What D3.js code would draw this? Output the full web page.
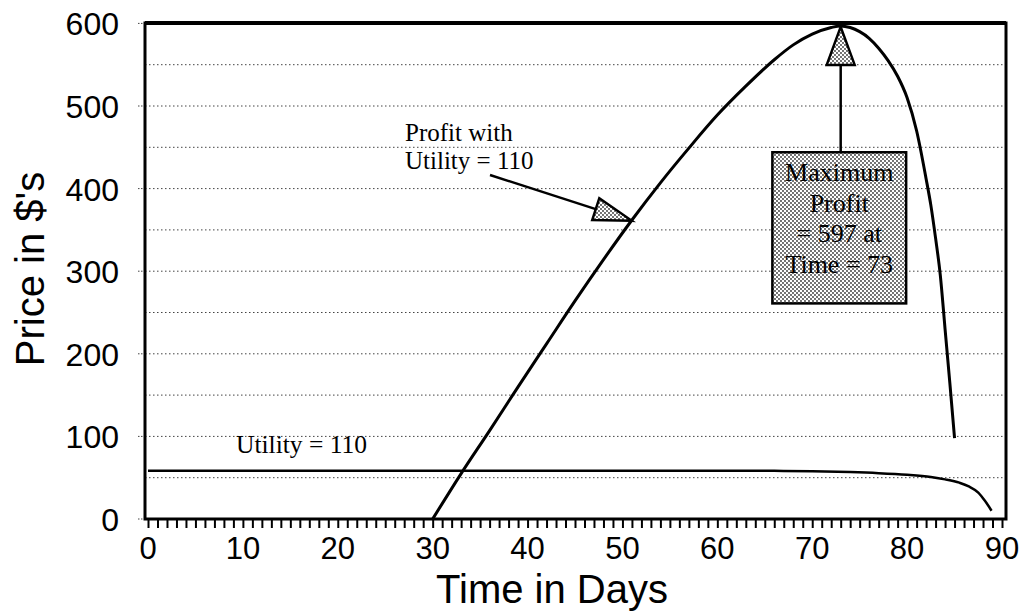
<!DOCTYPE html>
<html><head><meta charset="utf-8">
<script src="https://cdn.jsdelivr.net/npm/d3@7"></script>
<style>body{margin:0;background:#fff}svg{display:block}</style>
</head><body><svg id="c" width="1025" height="612"></svg>
<script>
// ---- data ----
const profitDays   = [30, 33, 36, 39, 42, 45, 48, 51, 54, 57, 60, 63, 66, 68, 70, 72, 73, 74, 75, 76, 77, 78, 79, 80, 81, 82, 82.5, 83, 83.5, 84, 84.5, 85];
const profitValues = [0, 55, 107, 160, 212, 264, 314, 362, 407, 449, 489, 524, 556, 574, 587, 595, 597, 595, 590, 582, 570, 555, 536, 510, 470, 412, 380, 340, 295, 230, 165, 98];
const utilityDays   = [0, 20, 40, 60, 66, 70, 74, 77, 80, 82.5, 84, 85.5, 86.5, 87.5, 88.2, 88.9];
const utilityValues = [58.5, 58.5, 58.5, 58.5, 58.3, 57.8, 56.8, 55.5, 53.5, 50.8, 48, 44, 39.5, 32, 22, 10];
const xTickLabels = [0, 10, 20, 30, 40, 50, 60, 70, 80, 90];
const yTickLabels = [0, 100, 200, 300, 400, 500, 600];
const gridValues = [50, 100, 150, 200, 250, 300, 350, 400, 450, 500, 550];
const maxProfit = {day: 73, value: 597};
const profitArrowTip = {day: 51.0, value: 361};
const boxLines = ["Maximum", "Profit", "= 597 at", "Time = 73"];
const profitLabelLines = ["Profit with", "Utility = 110"];
const utilityLabel = "Utility = 110";

// ---- layout ----
const svg = d3.select("#c");
const x = d3.scaleLinear().domain([0, 90]).range([148, 1002]);
const y = d3.scaleLinear().domain([0, 600]).range([519, 23.4]);
const L = 145, R = 1006, T = 23, B = 519;
const sans = "'Liberation Sans', Arial, Helvetica, sans-serif";
const serif = "'Liberation Serif', 'Times New Roman', serif";

// stipple pattern
const defs = svg.append("defs");
const pat = defs.append("pattern").attr("id", "dots").attr("width", 4).attr("height", 4).attr("patternUnits", "userSpaceOnUse");
pat.append("rect").attr("width", 4).attr("height", 4).attr("fill", "#fff");
pat.append("circle").attr("cx", 1).attr("cy", 1).attr("r", 0.9).attr("fill", "#333");
pat.append("circle").attr("cx", 3).attr("cy", 3).attr("r", 0.9).attr("fill", "#333");

// gridlines
svg.append("g").selectAll("line").data(gridValues).join("line")
  .attr("x1", L).attr("x2", R).attr("y1", d => y(d)).attr("y2", d => y(d))
  .attr("stroke", "#444").attr("stroke-width", 1).attr("stroke-dasharray", "1.5,2.5");
// small left ticks
svg.append("g").selectAll("line").data(yTickLabels).join("line")
  .attr("x1", L - 7).attr("x2", L).attr("y1", d => y(d)).attr("y2", d => y(d))
  .attr("stroke", "#444").attr("stroke-width", 1).attr("stroke-dasharray", "1.5,1.5");

// x axis ticks (every day)
const xAxis = d3.axisBottom(x).tickValues(d3.range(0, 91, 1)).tickSize(9).tickFormat("");
const gx = svg.append("g").attr("transform", `translate(0,${B})`).call(xAxis);
gx.select(".domain").remove();
gx.selectAll(".tick line").attr("stroke", "#000").attr("stroke-width", 2);

// x tick labels
svg.append("g").selectAll("text").data(xTickLabels).join("text")
  .attr("x", d => x(d)).attr("y", 559).attr("text-anchor", "middle")
  .attr("font-family", sans).attr("font-size", 31).text(d => d);

// y tick labels
const yAxis = d3.axisLeft(y).tickValues(yTickLabels).tickSize(0).tickPadding(0);
const gy = svg.append("g").attr("transform", `translate(119,0)`).call(yAxis);
gy.select(".domain").remove();
gy.selectAll("text").attr("font-family", sans).attr("font-size", 32).attr("fill", "#000").attr("dy", "0.36em");

// titles
svg.append("text").attr("x", 552).attr("y", 603).attr("text-anchor", "middle")
  .attr("font-family", sans).attr("font-size", 40).text("Time in Days");
svg.append("text").attr("transform", "translate(44,269) rotate(-90)").attr("text-anchor", "middle")
  .attr("font-family", sans).attr("font-size", 40).text("Price in $'s");

// lines
const line = d3.line().x(d => x(d[0])).y(d => y(d[1])).curve(d3.curveMonotoneX);
svg.append("path").datum(utilityDays.map((d, i) => [d, utilityValues[i]]))
  .attr("d", line).attr("fill", "none").attr("stroke", "#000").attr("stroke-width", 2.5);
svg.append("path").datum(profitDays.map((d, i) => [d, profitValues[i]]))
  .attr("d", line).attr("fill", "none").attr("stroke", "#000").attr("stroke-width", 3);

// frame
svg.append("rect").attr("x", L).attr("y", T).attr("width", R - L).attr("height", B - T)
  .attr("fill", "none").attr("stroke", "#000").attr("stroke-width", 3);
svg.append("line").attr("x1", L).attr("x2", R).attr("y1", T).attr("y2", T).attr("stroke", "#000").attr("stroke-width", 4);

// arrow helper
function arrow(x0, y0, tx, ty, len, half) {
  const dx = tx - x0, dy = ty - y0, n = Math.hypot(dx, dy);
  const ux = dx / n, uy = dy / n;
  const bx = tx - ux * len, by = ty - uy * len;
  svg.append("line").attr("x1", x0).attr("y1", y0).attr("x2", bx).attr("y2", by)
    .attr("stroke", "#000").attr("stroke-width", 2.5);
  svg.append("path").attr("d", `M${tx},${ty}L${bx - uy * half},${by + ux * half}L${bx + uy * half},${by - ux * half}Z`)
    .attr("fill", "url(#dots)").attr("stroke", "#000").attr("stroke-width", 2.5).attr("stroke-linejoin", "miter");
}

// Max profit box
const bx0 = x(65.8), bx1 = x(79.9), by0 = y(444), by1 = y(261);
arrow(x(maxProfit.day), by0, x(maxProfit.day), y(maxProfit.value) + 1, 38, 14);
svg.append("rect").attr("x", bx0).attr("y", by0).attr("width", bx1 - bx0).attr("height", by1 - by0)
  .attr("fill", "url(#dots)").attr("stroke", "#000").attr("stroke-width", 2.5);
svg.append("g").selectAll("text").data(boxLines).join("text")
  .attr("x", (bx0 + bx1) / 2).attr("y", (d, i) => by0 + 29 + i * 30.5).attr("text-anchor", "middle")
  .attr("font-family", serif).attr("font-size", 26).attr("fill", "#000").text(d => d);

// Profit label + arrow
svg.append("g").selectAll("text").data(profitLabelLines).join("text")
  .attr("x", 405).attr("y", (d, i) => 141 + i * 28)
  .attr("font-family", serif).attr("font-size", 25).text(d => d);
arrow(490, 175, x(profitArrowTip.day), y(profitArrowTip.value), 38, 11.5);

// Utility label
svg.append("text").attr("x", 236).attr("y", 453)
  .attr("font-family", serif).attr("font-size", 25.5).text(utilityLabel);
</script></body></html>
